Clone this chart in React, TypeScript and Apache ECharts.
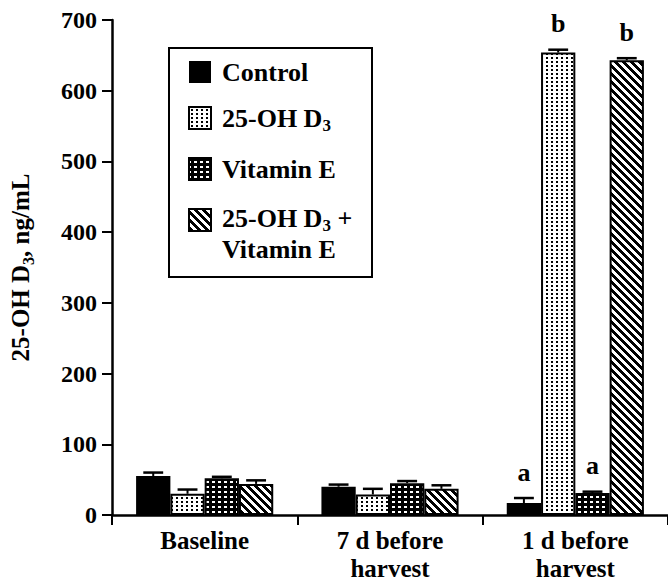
import React, { useEffect, useRef } from "react";
import * as echarts from "echarts";

const categories = ["Baseline", "7 d before\nharvest", "1 d before\nharvest"];
const seriesNames = ["Control", "25-OH D3", "Vitamin E", "25-OH D3 + Vitamin E"];
const controlValues = [55, 40, 17];
const ohd3Values = [30, 29, 654];
const vitEValues = [52, 45, 31];
const ohd3VitEValues = [44, 37, 643];
const controlErr = [5, 3, 7];
const ohd3Err = [6, 8, 4];
const vitEErr = [2, 3, 2];
const ohd3VitEErr = [5, 5, 3];
const sigLetters = [
  ["", "", "", ""],
  ["", "", "", ""],
  ["a", "b", "a", "b"],
];
const yMin = 0;
const yMax = 700;
const yStep = 100;

const FONT = '"Liberation Serif", "Times New Roman", serif';
const CAT_GAP = 0.26;

function makePattern(w: number, h: number, draw: (ctx: CanvasRenderingContext2D) => void) {
  const c = document.createElement("canvas");
  c.width = w;
  c.height = h;
  const ctx = c.getContext("2d") as CanvasRenderingContext2D;
  draw(ctx);
  return { image: c.toDataURL(), repeat: "repeat", imageWidth: w, imageHeight: h } as any;
}

export default function App() {
  const ref = useRef<HTMLDivElement>(null);
  useEffect(() => {
    document.body.style.margin = "0";
    if (!ref.current) return;
    const chart = echarts.init(ref.current, null, { renderer: "svg" });

    const lightDots = makePattern(5, 4, (ctx) => {
      ctx.fillStyle = "#fff";
      ctx.fillRect(0, 0, 5, 4);
      ctx.fillStyle = "#000";
      ctx.fillRect(1, 1, 2, 2);
    });
    const darkDots = makePattern(6, 5, (ctx) => {
      ctx.fillStyle = "#000";
      ctx.fillRect(0, 0, 6, 5);
      ctx.fillStyle = "#fff";
      ctx.fillRect(2, 1, 3, 2);
    });
    const stripes = makePattern(8, 8, (ctx) => {
      ctx.fillStyle = "#fff";
      ctx.fillRect(0, 0, 8, 8);
      ctx.fillStyle = "#000";
      for (let y = 0; y < 8; y++) {
        for (let x = 0; x < 8; x++) {
          if ((((x - y) % 8) + 8) % 8 < 4) ctx.fillRect(x, y, 1, 1);
        }
      }
    });

    const fills: any[] = ["#000", lightDots, darkDots, stripes];
    const values = [controlValues, ohd3Values, vitEValues, ohd3VitEValues];
    const errs = [controlErr, ohd3Err, vitEErr, ohd3VitEErr];

    const errData: number[][] = [];
    const errLetters: string[] = [];
    for (let c = 0; c < categories.length; c++) {
      for (let s = 0; s < 4; s++) {
        errData.push([c, s, values[s][c], errs[s][c]]);
        errLetters.push(sigLetters[c][s]);
      }
    }

    const richName = {
      m: { fontFamily: FONT, fontWeight: "bold", fontSize: 25, lineHeight: 28, color: "#000", verticalAlign: "top" },
      s: { fontFamily: FONT, fontWeight: "bold", fontSize: 16, lineHeight: 16, padding: [12, 0, 0, 0], color: "#000", verticalAlign: "top" },
    };
    const richLegend = {
      m: { fontFamily: FONT, fontWeight: "bold", fontSize: 26, lineHeight: 26, color: "#000", verticalAlign: "top" },
      s: { fontFamily: FONT, fontWeight: "bold", fontSize: 17, lineHeight: 14, padding: [12, 0, 0, 0], color: "#000", verticalAlign: "top" },
    };

    const legendX = 169;
    const legendY = 48;
    const iconX = 189;
    const iconSize = 22;
    const textX = 222;
    const rowCenters = [72, 118, 169, 218];
    const iconCenters = [72, 118, 169, 220];
    const legendTexts = [
      "{m|Control}",
      "{m|25-OH D}{s|3}",
      "{m|Vitamin E}",
      "{m|25-OH D}{s|3}{m| +}",
    ];

    const legendChildren: any[] = [
      {
        type: "rect",
        shape: { x: legendX, y: legendY, width: 203, height: 229 },
        style: { fill: "#fff", stroke: "#000", lineWidth: 2 },
      },
    ];
    for (let i = 0; i < 4; i++) {
      legendChildren.push({
        type: "rect",
        shape: { x: iconX, y: iconCenters[i] - iconSize / 2, width: iconSize, height: iconSize },
        style: { fill: fills[i], stroke: "#000", lineWidth: i === 0 ? 0 : 2 },
      });
      legendChildren.push({
        type: "text",
        x: textX,
        y: rowCenters[i],
        style: {
          text: legendTexts[i],
          rich: richLegend,
          fill: "#000",
          align: "left",
          verticalAlign: "middle",
        },
      });
    }
    legendChildren.push({
      type: "text",
      x: textX,
      y: 249,
      style: {
        text: "{m|Vitamin E}",
        rich: richLegend,
        fill: "#000",
        align: "left",
        verticalAlign: "middle",
      },
    });

    const barSeries = seriesNames.map((name, i) => ({
      name,
      type: "bar",
      data: values[i],
      barGap: "0%",
      barCategoryGap: CAT_GAP * 100 + "%",
      itemStyle: {
        color: fills[i],
        borderColor: "#000",
        borderWidth: i === 0 ? 0 : 2,
      },
      z: 2,
    }));

    const option: any = {
      animation: false,
      grid: { left: 112, right: -2, top: 20, bottom: 62 },
      xAxis: {
        type: "category",
        data: categories,
        axisLine: { show: true, lineStyle: { color: "#000", width: 2.5 } },
        axisTick: { show: true, length: 10, lineStyle: { color: "#000", width: 2 } },
        axisLabel: {
          color: "#000",
          fontFamily: FONT,
          fontWeight: "bold",
          fontSize: 25,
          lineHeight: 28,
          margin: 11,
          interval: 0,
        },
        splitLine: { show: false },
      },
      yAxis: {
        type: "value",
        min: yMin,
        max: yMax,
        interval: yStep,
        name: "{m|25-OH D}{s|3}{m|, ng/mL}",
        nameLocation: "middle",
        nameGap: 76,
        nameRotate: 90,
        nameTextStyle: { fontFamily: FONT, fontWeight: "bold", fontSize: 25, color: "#000", rich: richName },
        axisLine: { show: true, lineStyle: { color: "#000", width: 2.5 } },
        axisTick: { show: true, length: 10, lineStyle: { color: "#000", width: 2 } },
        axisLabel: {
          color: "#000",
          fontFamily: FONT,
          fontWeight: "bold",
          fontSize: 24,
          margin: 15,
        },
        splitLine: { show: false },
      },
      series: [
        ...barSeries,
        {
          type: "custom",
          data: errData,
          encode: { x: 0, y: 2 },
          z: 5,
          renderItem: (params: any, api: any) => {
            const cat = api.value(0);
            const s = api.value(1);
            const v = api.value(2);
            const e = api.value(3);
            const band = api.size([1, 0])[0];
            const bw = (band * (1 - CAT_GAP)) / 4;
            const cx = api.coord([cat, 0])[0] + (s - 1.5) * bw;
            const yTop = api.coord([cat, v + e])[1];
            const yBar = api.coord([cat, v])[1];
            const half = bw * 0.29;
            const letter = errLetters[params.dataIndex];
            const children: any[] = [
              {
                type: "line",
                shape: { x1: cx, y1: yBar, x2: cx, y2: yTop },
                style: { stroke: "#000", lineWidth: 2 },
              },
              {
                type: "line",
                shape: { x1: cx - half, y1: yTop, x2: cx + half, y2: yTop },
                style: { stroke: "#000", lineWidth: 2.5 },
              },
            ];
            if (letter) {
              children.push({
                type: "text",
                style: {
                  text: letter,
                  x: cx,
                  y: yTop - 13,
                  align: "center",
                  verticalAlign: "bottom",
                  fill: "#000",
                  fontFamily: FONT,
                  fontWeight: "bold",
                  fontSize: 26,
                },
              });
            }
            return { type: "group", children };
          },
        },
      ],
      graphic: [{ type: "group", children: legendChildren }],
    };

    chart.setOption(option);
    return () => chart.dispose();
  }, []);

  return <div ref={ref} style={{ width: 668, height: 582 }} />;
}
